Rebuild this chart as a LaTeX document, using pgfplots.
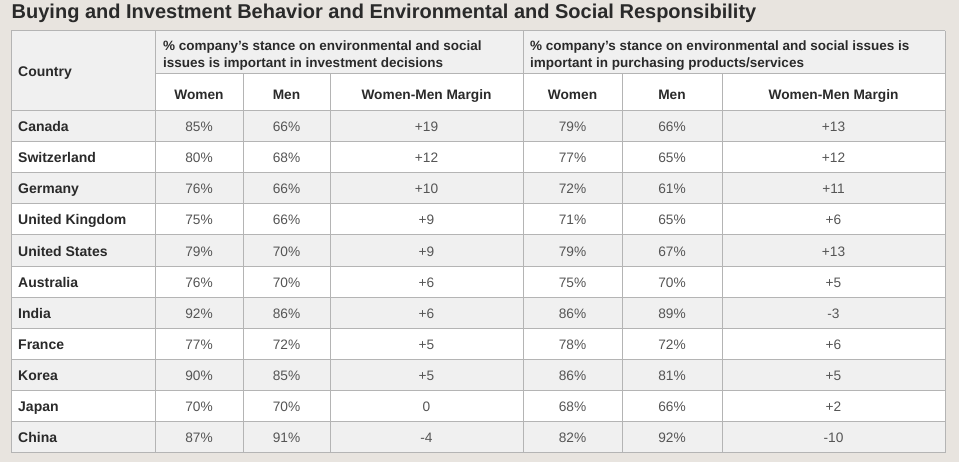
\documentclass[border=0pt]{standalone}
\usepackage{pgfplots}
\pgfplotsset{compat=1.18}
\usepackage{pgfplotstable}
\usepackage{fontspec}
\setmainfont{Liberation Sans}
\definecolor{bgc}{HTML}{E8E4DF}
\definecolor{rowg}{HTML}{F0F0F0}
\definecolor{linec}{HTML}{B4B4B4}
\definecolor{txtd}{HTML}{2A2A2A}
\definecolor{txtv}{HTML}{555555}

\pgfplotstableread[col sep=comma]{
row,country,w1,m1,d1,w2,m2,d2
0,Canada,85,66,+19,79,66,+13
1,Switzerland,80,68,+12,77,65,+12
2,Germany,76,66,+10,72,61,+11
3,United Kingdom,75,66,+9,71,65,+6
4,United States,79,70,+9,79,67,+13
5,Australia,76,70,+6,75,70,+5
6,India,92,86,+6,86,89,-3
7,France,77,72,+5,78,72,+6
8,Korea,90,85,+5,86,81,+5
9,Japan,70,70,0,68,66,+2
10,China,87,91,-4,82,92,-10
}\datatable

\pgfplotsset{
  cellval/.style={draw=none, mark=none, nodes near coords={\pgfplotspointmeta\%},
    point meta=explicit symbolic,
    every node near coord/.append style={anchor=base, inner sep=0pt, text=txtv,
      font=\fontsize{13.7bp}{16bp}\selectfont}},
  cellmar/.style={draw=none, mark=none, nodes near coords={\pgfplotspointmeta},
    point meta=explicit symbolic,
    every node near coord/.append style={anchor=base, inner sep=0pt, text=txtv,
      font=\fontsize{13.7bp}{16bp}\selectfont}},
  cellname/.style={draw=none, mark=none, nodes near coords={\pgfplotspointmeta},
    point meta=explicit symbolic,
    every node near coord/.append style={anchor=base west, inner sep=0pt, text=txtd,
      font=\fontsize{14bp}{16bp}\selectfont\bfseries}},
  gline/.style={linec, line width=1bp, mark=none, forget plot},
}

\begin{document}
\begin{tikzpicture}
\begin{axis}[
  width=959bp, height=462bp, scale only axis,
  xmin=0, xmax=959, ymin=0, ymax=462, y dir=reverse,
  hide axis, clip=false,
]
% background
\addplot[fill=bgc, draw=none] coordinates {(0,0) (959,0) (959,462) (0,462)} --cycle;
% table white area
\addplot[fill=white, draw=none] coordinates {(11,31) (945,31) (945,452.5) (11,452.5)} --cycle;
% header gray parts
\addplot[fill=rowg, draw=none] coordinates {(11,31) (945,31) (945,73.5) (11,73.5)} --cycle;
\addplot[fill=rowg, draw=none] coordinates {(11,73.5) (155,73.5) (155,110.5) (11,110.5)} --cycle;
% gray rows
\addplot[fill=rowg, draw=none] coordinates {(11,110.5) (945,110.5) (945,141.6) (11,141.6)} --cycle;
\addplot[fill=rowg, draw=none] coordinates {(11,172.7) (945,172.7) (945,203.8) (11,203.8)} --cycle;
\addplot[fill=rowg, draw=none] coordinates {(11,234.9) (945,234.9) (945,266.0) (11,266.0)} --cycle;
\addplot[fill=rowg, draw=none] coordinates {(11,297.0) (945,297.0) (945,328.1) (11,328.1)} --cycle;
\addplot[fill=rowg, draw=none] coordinates {(11,359.2) (945,359.2) (945,390.3) (11,390.3)} --cycle;
\addplot[fill=rowg, draw=none] coordinates {(11,421.4) (945,421.4) (945,452.5) (11,452.5)} --cycle;
% horizontal lines
\addplot[gline] coordinates {(11,31) (945,31)};
\addplot[gline] coordinates {(155,73.5) (945,73.5)};
\addplot[gline] coordinates {(11,110.5) (945,110.5)};
\addplot[gline] coordinates {(11,141.6) (945,141.6)};
\addplot[gline] coordinates {(11,172.7) (945,172.7)};
\addplot[gline] coordinates {(11,203.8) (945,203.8)};
\addplot[gline] coordinates {(11,234.9) (945,234.9)};
\addplot[gline] coordinates {(11,266.0) (945,266.0)};
\addplot[gline] coordinates {(11,297.0) (945,297.0)};
\addplot[gline] coordinates {(11,328.1) (945,328.1)};
\addplot[gline] coordinates {(11,359.2) (945,359.2)};
\addplot[gline] coordinates {(11,390.3) (945,390.3)};
\addplot[gline] coordinates {(11,421.4) (945,421.4)};
\addplot[gline] coordinates {(11,452.5) (945,452.5)};
% vertical lines
\addplot[gline] coordinates {(11,31) (11,452.5)};
\addplot[gline] coordinates {(155,31) (155,452.5)};
\addplot[gline] coordinates {(523,31) (523,452.5)};
\addplot[gline] coordinates {(945,31) (945,452.5)};
\addplot[gline] coordinates {(243,73.5) (243,452.5)};
\addplot[gline] coordinates {(330,73.5) (330,452.5)};
\addplot[gline] coordinates {(622,73.5) (622,452.5)};
\addplot[gline] coordinates {(722,73.5) (722,452.5)};
% cell texts
\addplot[cellname] table[x expr=18, y expr={110.5+31.09*(\thisrow{row}+0.5)+5.6}, meta=country] {\datatable};
\addplot[cellval] table[x expr=199, y expr={110.5+31.09*(\thisrow{row}+0.5)+5.6}, meta=w1] {\datatable};
\addplot[cellval] table[x expr=286.5, y expr={110.5+31.09*(\thisrow{row}+0.5)+5.6}, meta=m1] {\datatable};
\addplot[cellmar] table[x expr=426.5, y expr={110.5+31.09*(\thisrow{row}+0.5)+5.6}, meta=d1] {\datatable};
\addplot[cellval] table[x expr=572.5, y expr={110.5+31.09*(\thisrow{row}+0.5)+5.6}, meta=w2] {\datatable};
\addplot[cellval] table[x expr=672, y expr={110.5+31.09*(\thisrow{row}+0.5)+5.6}, meta=m2] {\datatable};
\addplot[cellmar] table[x expr=833.5, y expr={110.5+31.09*(\thisrow{row}+0.5)+5.6}, meta=d2] {\datatable};
% title and headers
\node[anchor=base west, inner sep=0pt, text=txtd, font=\fontsize{20bp}{24bp}\selectfont\bfseries] at (axis cs:11.5,18.5) {Buying and Investment Behavior and Environmental and Social Responsibility};
\node[anchor=base west, inner sep=0pt, text=txtd, font=\fontsize{14bp}{16bp}\selectfont\bfseries] at (axis cs:18,77) {Country};
\node[anchor=base west, inner sep=0pt, text=txtd, font=\fontsize{13.5bp}{16bp}\selectfont\bfseries] at (axis cs:163,51) {\% company’s stance on environmental and social};
\node[anchor=base west, inner sep=0pt, text=txtd, font=\fontsize{13.5bp}{16bp}\selectfont\bfseries] at (axis cs:163,67.5) {issues is important in investment decisions};
\node[anchor=base west, inner sep=0pt, text=txtd, font=\fontsize{13.5bp}{16bp}\selectfont\bfseries] at (axis cs:530,51) {\% company’s stance on environmental and social issues is};
\node[anchor=base west, inner sep=0pt, text=txtd, font=\fontsize{13.5bp}{16bp}\selectfont\bfseries] at (axis cs:530,67.5) {important in purchasing products/services};
\node[anchor=base, inner sep=0pt, text=txtd, font=\fontsize{13.7bp}{16bp}\selectfont\bfseries] at (axis cs:199,99) {Women};
\node[anchor=base, inner sep=0pt, text=txtd, font=\fontsize{13.7bp}{16bp}\selectfont\bfseries] at (axis cs:286.5,99) {Men};
\node[anchor=base, inner sep=0pt, text=txtd, font=\fontsize{13.7bp}{16bp}\selectfont\bfseries] at (axis cs:426.5,99) {Women-Men Margin};
\node[anchor=base, inner sep=0pt, text=txtd, font=\fontsize{13.7bp}{16bp}\selectfont\bfseries] at (axis cs:572.5,99) {Women};
\node[anchor=base, inner sep=0pt, text=txtd, font=\fontsize{13.7bp}{16bp}\selectfont\bfseries] at (axis cs:672,99) {Men};
\node[anchor=base, inner sep=0pt, text=txtd, font=\fontsize{13.7bp}{16bp}\selectfont\bfseries] at (axis cs:833.5,99) {Women-Men Margin};
\end{axis}
\end{tikzpicture}
\end{document}
